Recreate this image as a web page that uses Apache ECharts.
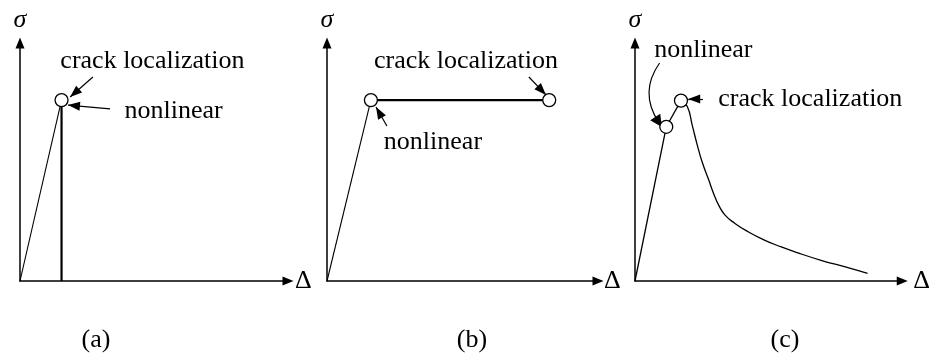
<!DOCTYPE html>
<html>
<head>
<meta charset="utf-8">
<script src="https://cdn.jsdelivr.net/npm/echarts@6/dist/echarts.min.js"></script>
<style>
  html, body { margin: 0; padding: 0; background: #fff; }
  #chart { width: 933px; height: 356px; }
</style>
</head>
<body>
<div id="chart"></div>
<script>
// Normalised stress (sigma) vs. displacement (Delta), 0..100 on both axes.

// (a) brittle response
const brittleElastic = [[0, 0], [15.5, 76]];
const brittleDrop = [[15.5, 76], [15.5, 0]];
const brittlePoints = [[15.5, 76]];

// (b) perfectly plastic response
const plasticElastic = [[0, 0], [16.2, 76]];
const plasticPlateau = [[16.2, 76], [82, 76]];
const plasticPoints = [[16.2, 76], [82, 76]];

// (c) softening response
const softeningRise = [[0, 0], [11.7, 64.8], [17.2, 75.8]];
const softeningTail = [[17.2, 75.8], [19.6, 73.2], [21.4, 65.5], [23.3, 57.1], [25.1, 50.1], [27.6, 42.4],
  [29.4, 36.8], [31.3, 31.9], [33.7, 27.7], [37.4, 24.2], [42.3, 20.7], [48.4, 17.2], [54.5, 14.4],
  [60.7, 11.9], [69.9, 8.6], [79, 5.8], [87, 3.2]];
const softeningPoints = [[11.7, 64.8], [17.2, 75.8]];

// annotation text anchors [x, y]
const notesA = [{ name: 'crack localization', value: [49.4, 92.4] }, { name: 'nonlinear', value: [57.3, 71.4] }];
const notesB = [{ name: 'crack localization', value: [51.3, 92.4] }, { name: 'nonlinear', value: [39.1, 58.4] }];
const notesC = [{ name: 'nonlinear', value: [25.6, 97.1] }, { name: 'crack localization', value: [65.6, 76.3] }];

// leader arrows: [from, to]
const arrowsA = [[[27.2, 85.7], [18.7, 77.3]], [[33.6, 72.3], [17.9, 73.9]]];
const arrowsB = [[[74.5, 85.7], [80.8, 78.2]], [[22.1, 65.1], [18.1, 73.1]]];
const arrowsC = [[[25.4, 76.5], [19.9, 76.5]]];
const curvedArrowsC = [[[9.2, 91.6], [8.8, 66.8]]];

const panelLabels = ['(a)', '(b)', '(c)'];

const SERIF = "'Liberation Serif', 'Times New Roman', serif";
const INK = '#000';
const FONT = 26;

const grids = [
  { left: 20, top: 43, width: 268, height: 238 },
  { left: 327, top: 43, width: 271, height: 238 },
  { left: 635, top: 43, width: 272, height: 238 }
];
const deltaGaps = [7, 6, 11];
const labelX = [96, 472, 785];

function xAxisFor(i) {
  return {
    type: 'value', gridIndex: i, min: 0, max: 100,
    name: '\u0394', nameLocation: 'end', nameGap: deltaGaps[i],
    nameTextStyle: { fontFamily: SERIF, fontSize: FONT, color: INK, verticalAlign: 'middle' },
    axisLine: { show: true, onZero: false, symbol: ['none', 'triangle'], symbolSize: [9, 11],
      lineStyle: { color: INK, width: 1.5 } },
    axisTick: { show: false }, axisLabel: { show: false }, splitLine: { show: false }
  };
}
function yAxisFor(i) {
  return {
    type: 'value', gridIndex: i, min: 0, max: 100,
    name: '\u03C3', nameLocation: 'end', nameGap: 10,
    nameTextStyle: { fontFamily: SERIF, fontSize: FONT, fontStyle: 'italic', color: INK, align: 'center' },
    axisLine: { show: true, onZero: false, symbol: ['none', 'triangle'], symbolSize: [9, 11],
      lineStyle: { color: INK, width: 1.5 } },
    axisTick: { show: false }, axisLabel: { show: false }, splitLine: { show: false }
  };
}

function path(i, data, width, smooth) {
  return {
    type: 'line', xAxisIndex: i, yAxisIndex: i, data: data, smooth: smooth || false,
    symbol: 'none', clip: false, silent: true,
    lineStyle: { color: INK, width: width }
  };
}
function points(i, data) {
  return {
    type: 'scatter', xAxisIndex: i, yAxisIndex: i, data: data, z: 5, silent: true,
    symbol: 'circle', symbolSize: 13, clip: false,
    itemStyle: { color: '#fff', borderColor: INK, borderWidth: 1.3, opacity: 1 }
  };
}
function notes(i, data, arrows) {
  return {
    type: 'scatter', xAxisIndex: i, yAxisIndex: i, data: data, symbolSize: 0, silent: true, clip: false,
    itemStyle: { opacity: 1 },
    label: { show: true, position: 'inside', formatter: '{b}', fontFamily: SERIF, fontSize: FONT,
      color: INK, textBorderWidth: 0 },
    markLine: {
      silent: true, animation: false,
      symbol: ['none', 'triangle'], symbolSize: [9, 12], symbolOffset: [[0, 0], [0, 6]],
      label: { show: false },
      lineStyle: { color: INK, width: 1.2, type: 'solid' },
      data: arrows.map(function (a) { return [{ coord: a[0] }, { coord: a[1] }]; })
    }
  };
}
// curved leader arrow
function curvedLeaders(i, list, curveness) {
  return {
    type: 'lines', coordinateSystem: 'cartesian2d', xAxisIndex: i, yAxisIndex: i, silent: true, z: 4,
    symbol: ['none', 'triangle'], symbolSize: [9, 12], symbolOffset: [[0, 0], [0, 6]],
    lineStyle: { color: INK, width: 1.2, opacity: 1, curveness: curveness },
    data: list.map(function (a) { return { coords: [a[0], a[1]] }; })
  };
}

const chart = echarts.init(document.getElementById('chart'), null, { renderer: 'canvas' });
chart.setOption({
  backgroundColor: '#fff',
  animation: false,
  grid: grids,
  xAxis: [xAxisFor(0), xAxisFor(1), xAxisFor(2)],
  yAxis: [yAxisFor(0), yAxisFor(1), yAxisFor(2)],
  graphic: panelLabels.map(function (t, i) {
    return {
      type: 'text', x: labelX[i], y: 340,
      style: { text: t, fontFamily: SERIF, fontSize: FONT, fill: INK, align: 'center', verticalAlign: 'middle' }
    };
  }),
  series: [
    path(0, brittleElastic, 1.1),
    path(0, brittleDrop, 2.2),
    points(0, brittlePoints),
    notes(0, notesA, arrowsA),

    path(1, plasticElastic, 1.1),
    path(1, plasticPlateau, 2.2),
    points(1, plasticPoints),
    notes(1, notesB, arrowsB),

    path(2, softeningRise, 1.3),
    path(2, softeningTail, 1.3, 0.5),
    points(2, softeningPoints),
    notes(2, notesC, arrowsC),
    curvedLeaders(2, curvedArrowsC, -0.34)
  ]
});
</script>
</body>
</html>
